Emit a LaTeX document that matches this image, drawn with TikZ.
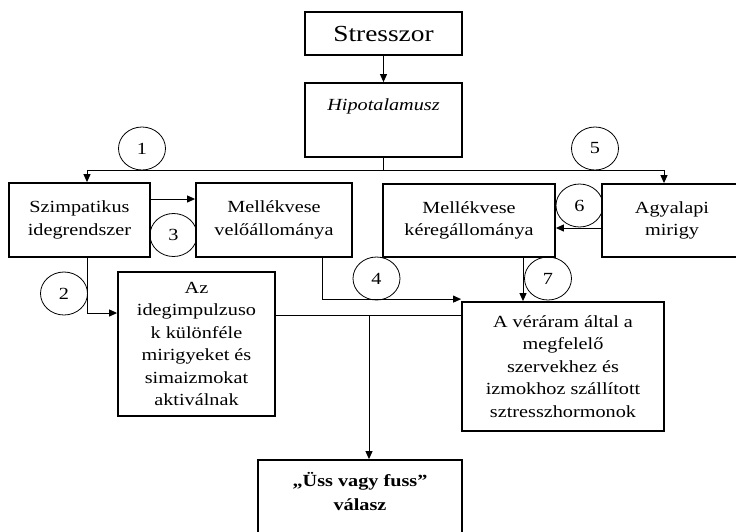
\documentclass[tikz,border=0pt]{standalone}
\usepackage{fontspec}
\setmainfont{Liberation Serif}[FakeStretch=1.19]
\usetikzlibrary{arrows.meta,shapes.geometric}
\begin{document}
\begin{tikzpicture}[x=1pt,y=-1pt,
  box/.style={draw, line width=1.8pt, fill=white, rectangle, inner sep=0pt, align=center,
    font=\fontsize{17}{22.5}\selectfont},
  num/.style={draw, line width=0.8pt, ellipse, minimum width=47pt, minimum height=43pt, inner sep=0pt,
    font=\fontsize{17}{20}\selectfont},
  txt/.style={inner sep=0pt, align=center},
  con/.style={line width=1pt},
  arr/.style={line width=1pt, -{Triangle[length=8pt,width=7pt]}}]
\useasboundingbox (0,0) rectangle (736,531);
\clip (0,0) rectangle (736,531);
% circles
\node[num] (c1) at (142,148.5) {1};
\node[num] (c5) at (595,148.5) {5};
\node[num] (c2) at (64,293.5) {2};
\node[num] (c3) at (173.5,235) {3};
\node[num] (c4) at (376.5,278.5) {4};
\node[num] (c6) at (579.5,205.5) {6};
\node[num] (c7) at (548,278.5) {7};
% boxes
\node[box, minimum width=157pt, minimum height=43pt, font=\fontsize{23}{26}\selectfont] (stress) at (383.5,33.5) {Stresszor};
\node[box, minimum width=157pt, minimum height=74pt] (hyp) at (383.5,120) {};
\node[txt, anchor=base, font=\fontsize{17}{22.5}\selectfont\itshape] (hypt) at (383.5,110) {Hipotalamusz};
\node[box, minimum width=141pt, minimum height=74pt] (szimp) at (79.5,220) {Szimpatikus\\idegrendszer};
\node[box, minimum width=156pt, minimum height=74pt] (velo) at (274,220) {Mellékvese\\velőállománya};
\node[box, minimum width=172pt, minimum height=73pt] (kereg) at (469,220.5) {Mellékvese\\kéregállománya};
\node[box, minimum width=140pt, minimum height=73pt] (agy) at (672,220.5) {Agyalapi\\mirigy};
\node[box, minimum width=157pt, minimum height=144pt] (az) at (196.5,344) {Az\\idegimpulzuso\\k különféle\\mirigyeket és\\simaizmokat\\aktiválnak};
\node[box, minimum width=202pt, minimum height=129pt] (verar) at (563,366.5) {A véráram által a\\megfelelő\\szervekhez és\\izmokhoz szállított\\sztresszhormonok};
\node[box, minimum width=204pt, minimum height=100pt] (uss) at (360,510) {};
\node[txt, anchor=north, font=\fontsize{17}{24}\selectfont\bfseries] (usst) at (360,472) {„Üss vagy fuss”\\válasz};
% connectors
\coordinate (split) at (383.5,170);
\coordinate (jn) at (369,315);
\draw[arr] (stress.south) -- (hyp.north);
\draw[con] (hyp.south) -- (split);
\draw[arr] (split) -| ([xshift=7.5pt]szimp.north);
\draw[arr] (split) -| ([xshift=-8pt]agy.north);
\draw[arr] ([yshift=21pt]szimp.east) -- ([yshift=21pt]velo.west);
\draw[arr] ([yshift=-7.5pt]agy.west) -- ([yshift=-7.5pt]kereg.east);
\draw[arr] ([xshift=7.5pt]szimp.south) |- ([yshift=31pt]az.west);
\draw[arr] ([xshift=48pt]velo.south) |- ([yshift=2pt]verar.north west);
\draw[arr] ([xshift=54pt]kereg.south) -- ([xshift=54pt]kereg.south |- verar.north);
\draw[con] ([yshift=29pt]az.east) -- ([yshift=29pt]az.east -| verar.west);
\draw[arr] (jn) -- (jn |- uss.north);
\end{tikzpicture}
\end{document}
